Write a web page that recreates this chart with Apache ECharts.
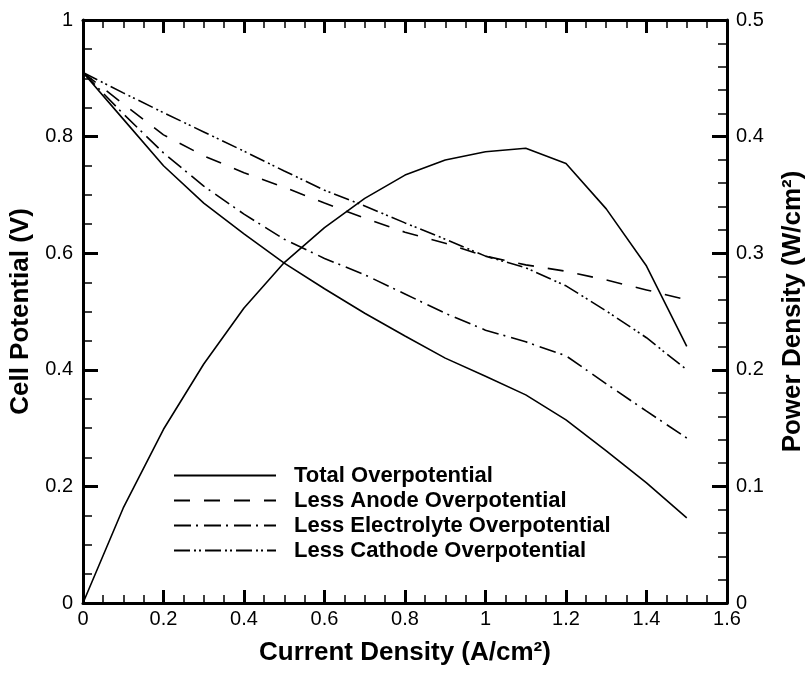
<!DOCTYPE html>
<html>
<head>
<meta charset="utf-8">
<script src="https://cdn.jsdelivr.net/npm/echarts@6/dist/echarts.min.js"></script>
<style>
  html, body { margin: 0; padding: 0; background: #fff; }
  #chart { width: 806px; height: 673px; }
</style>
</head>
<body>
<div id="chart"></div>
<script>
// current density (A/cm2)
var current = [0, 0.1, 0.2, 0.3, 0.4, 0.5, 0.6, 0.7, 0.8, 0.9, 1.0, 1.1, 1.2, 1.3, 1.4, 1.5]
// cell potential (V)
var totalV = [0.91, 0.83, 0.75, 0.686, 0.633, 0.583, 0.539, 0.497, 0.458, 0.42, 0.389, 0.357, 0.314, 0.261, 0.206, 0.146]
var lessAnode = [0.91, 0.856, 0.803, 0.767, 0.738, 0.713, 0.686, 0.66, 0.636, 0.617, 0.595, 0.58, 0.569, 0.554, 0.537, 0.52]
var lessElectrolyte = [0.91, 0.839, 0.772, 0.715, 0.667, 0.624, 0.591, 0.563, 0.53, 0.497, 0.468, 0.448, 0.424, 0.376, 0.329, 0.283]
var lessCathode = [0.91, 0.875, 0.841, 0.808, 0.775, 0.741, 0.708, 0.681, 0.652, 0.624, 0.595, 0.575, 0.544, 0.501, 0.455, 0.4]
// power density (W/cm2)
var power = [0, 0.0815, 0.149, 0.205, 0.253, 0.292, 0.322, 0.347, 0.367, 0.38, 0.387, 0.39, 0.377, 0.338, 0.289, 0.22]

var legendNames = ['Total Overpotential', 'Less Anode Overpotential', 'Less Electrolyte Overpotential', 'Less Cathode Overpotential']

function pairs(ys) {
  return current.map(function (x, i) { return [x, ys[i]] })
}

var myChart = echarts.init(document.getElementById('chart'))

var tickFont = { fontFamily: 'Liberation Sans', fontSize: 20, color: '#000' }
var titleFont = { fontFamily: 'Liberation Sans', fontSize: 26, fontWeight: 'bold', color: '#000' }
var majorTick = { lineStyle: { color: '#000', width: 3 } }
var minorLine = { color: '#000', width: 1.5 }

function lineSeries(name, ys, dash, yIndex) {
  return {
    name: name,
    type: 'line',
    xAxisIndex: 0,
    yAxisIndex: yIndex,
    symbol: 'none',
    showSymbol: false,
    smooth: false,
    animation: false,
    color: '#000',
    lineStyle: { color: '#000', width: 1.6, type: dash },
    data: pairs(ys)
  }
}

myChart.setOption({
  backgroundColor: '#fff',
  animation: false,
  grid: { left: 83, right: 79, top: 20, bottom: 70, outerBoundsMode: 'none', containLabel: false },
  legend: {
    orient: 'vertical',
    left: 173,
    top: 464,
    padding: 0,
    itemWidth: 102,
    itemHeight: 14,
    itemGap: 2,
    selectedMode: false,
    data: legendNames,
    itemStyle: { opacity: 0 },
    textStyle: {
      fontFamily: 'Liberation Sans', fontSize: 22, fontWeight: 'bold', color: '#000',
      lineHeight: 23, padding: [0, 0, 0, 13]
    }
  },
  xAxis: [
    {
      type: 'value',
      min: 0, max: 1.6, interval: 0.2,
      name: 'Current Density (A/cm²)',
      nameLocation: 'middle',
      nameGap: 37,
      nameTextStyle: titleFont,
      axisLine: { onZero: false, lineStyle: { color: '#000', width: 3 } },
      axisTick: Object.assign({ inside: true, length: 13 }, majorTick),
      minorTick: { show: true, splitNumber: 4, length: 8, lineStyle: minorLine },
      axisLabel: Object.assign({ margin: 6 }, tickFont),
      splitLine: { show: false }
    },
    {
      type: 'value',
      position: 'top',
      min: 0, max: 1.6, interval: 0.2,
      axisLine: { onZero: false, lineStyle: { color: '#000', width: 3 } },
      axisTick: Object.assign({ inside: true, length: 13 }, majorTick),
      minorTick: { show: true, splitNumber: 4, length: 8, lineStyle: minorLine },
      axisLabel: { show: false },
      splitLine: { show: false }
    }
  ],
  yAxis: [
    {
      type: 'value',
      min: 0, max: 1, interval: 0.2,
      name: 'Cell Potential (V)',
      nameLocation: 'middle',
      nameRotate: 90,
      nameGap: 48,
      nameTextStyle: titleFont,
      axisLine: { show: true, onZero: false, lineStyle: { color: '#000', width: 3 } },
      axisTick: Object.assign({ show: true, inside: true, length: 15 }, majorTick),
      minorTick: { show: true, splitNumber: 4, length: 9, lineStyle: minorLine },
      axisLabel: Object.assign({ margin: 10 }, tickFont),
      splitLine: { show: false }
    },
    {
      type: 'value',
      position: 'right',
      min: 0, max: 0.5, interval: 0.1,
      name: 'Power Density (W/cm²)',
      nameLocation: 'middle',
      nameRotate: 90,
      nameGap: 53,
      nameTextStyle: titleFont,
      axisLine: { show: true, onZero: false, lineStyle: { color: '#000', width: 3 } },
      axisTick: Object.assign({ show: true, inside: true, length: 15 }, majorTick),
      minorTick: { show: true, splitNumber: 5, length: 9, lineStyle: minorLine },
      axisLabel: Object.assign({ margin: 9 }, tickFont),
      splitLine: { show: false }
    }
  ],
  series: [
    lineSeries(legendNames[0], totalV, 'solid', 0),
    lineSeries(legendNames[1], lessAnode, [16, 14], 0),
    lineSeries(legendNames[2], lessElectrolyte, [17, 5, 2, 6], 0),
    lineSeries(legendNames[3], lessCathode, [16, 4, 2, 3, 2, 4], 0),
    lineSeries('Power Density', power, 'solid', 1)
  ]
})
</script>
</body>
</html>
